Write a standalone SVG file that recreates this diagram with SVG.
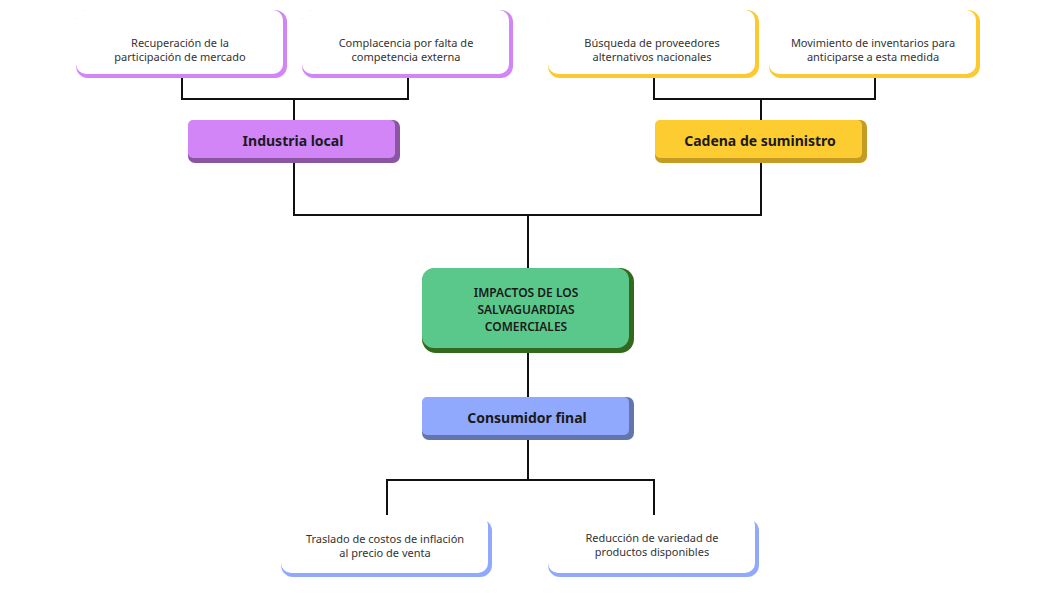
<svg xmlns="http://www.w3.org/2000/svg" width="1056" height="594" viewBox="0 0 1056 594">
<style>
.t{font-family:"Noto Sans","Liberation Sans",sans-serif;font-size:11px;fill:#333;text-anchor:middle}
.h{font-family:"Noto Sans","Liberation Sans",sans-serif;font-size:14px;font-weight:bold;fill:#1a1a1a;text-anchor:middle}
.c{font-family:"Noto Sans","Liberation Sans",sans-serif;font-size:12px;font-weight:600;fill:#1a1a1a;text-anchor:middle}
.w{fill:#fff}
#conn path{stroke:#111;stroke-width:2;fill:none}
</style>
<rect width="1056" height="594" fill="#fff"/>
<g id="conn">
<path d="M182 78V99H408V78M294 99V120"/>
<path d="M654 78V99H875V78M761 99V120"/>
<path d="M294 162V215H761V162M528 215V268"/>
<path d="M528 352V397"/>
<path d="M528 440V480M387 519V480H654V519"/>
</g>
<g id="l1"><rect x="76" y="10" width="211" height="68" rx="12" fill="#d285f7"/><rect class="w" x="76" y="10" width="207" height="64" rx="10"/><text class="t" x="180" y="47">Recuperación de la</text><text class="t" x="180" y="61">participación de mercado</text></g>
<g id="l2"><rect x="302" y="10" width="211" height="68" rx="12" fill="#d285f7"/><rect class="w" x="302" y="10" width="207" height="64" rx="10"/><text class="t" x="406" y="47">Complacencia por falta de</text><text class="t" x="406" y="61">competencia externa</text></g>
<g id="l3"><rect x="548" y="10" width="211" height="68" rx="12" fill="#fdc931"/><rect class="w" x="548" y="10" width="207" height="64" rx="10"/><text class="t" x="652" y="47">Búsqueda de proveedores</text><text class="t" x="652" y="61">alternativos nacionales</text></g>
<g id="l4"><rect x="769" y="10" width="211" height="68" rx="12" fill="#fdc931"/><rect class="w" x="769" y="10" width="207" height="64" rx="10"/><text class="t" x="873" y="47">Movimiento de inventarios para</text><text class="t" x="873" y="61">anticiparse a esta medida</text></g>
<g id="n1"><rect x="188" y="120" width="212" height="43" rx="7" fill="#8a55a2"/><rect x="188" y="120" width="207" height="38" rx="5" fill="#d285f7"/><text class="h" x="293" y="146">Industria local</text></g>
<g id="n2"><rect x="655" y="120" width="212" height="43" rx="7" fill="#c49c24"/><rect x="655" y="120" width="207" height="38" rx="5" fill="#fdcc31"/><text class="h" x="760" y="146">Cadena de suministro</text></g>
<g id="n3"><rect x="422" y="268" width="212" height="85" rx="14" fill="#33691e"/><rect x="422" y="268" width="207" height="80" rx="12" fill="#5ac88b"/><text class="c" x="526" y="297">IMPACTOS DE LOS</text><text class="c" x="526" y="314">SALVAGUARDIAS</text><text class="c" x="526" y="331">COMERCIALES</text></g>
<g id="n4"><rect x="422" y="397" width="212" height="43" rx="7" fill="#6375ad"/><rect x="422" y="397" width="207" height="38" rx="5" fill="#90a9fc"/><text class="h" x="527" y="423">Consumidor final</text></g>
<g id="l5"><rect x="281" y="519" width="211" height="58" rx="12" fill="#90a9fc"/><rect class="w" x="281" y="515" width="207" height="58" rx="10"/><text class="t" x="385" y="543">Traslado de costos de inflación</text><text class="t" x="385" y="557">al precio de venta</text></g>
<g id="l6"><rect x="548" y="519" width="211" height="58" rx="12" fill="#90a9fc"/><rect class="w" x="548" y="515" width="207" height="58" rx="10"/><text class="t" x="652" y="542">Reducción de variedad de</text><text class="t" x="652" y="556">productos disponibles</text></g>
</svg>
